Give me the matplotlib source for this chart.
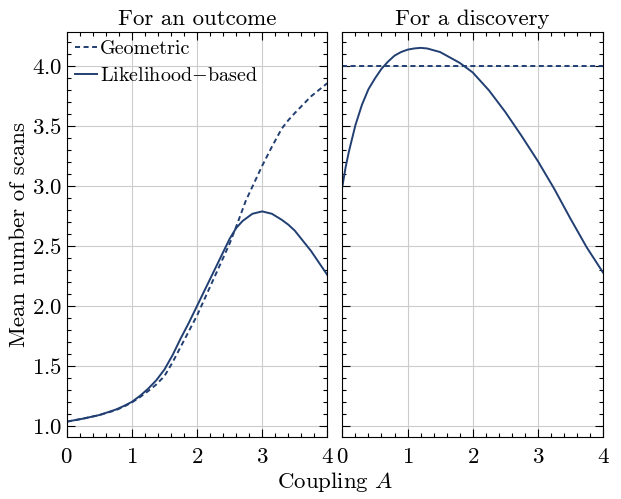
import matplotlib
matplotlib.use("Agg")
import matplotlib.pyplot as plt
from matplotlib.ticker import MultipleLocator

# Computer Modern look using the fonts bundled with matplotlib
plt.rcParams.update({
    "font.family": "serif",
    "font.serif": ["cmr10"],
    "mathtext.fontset": "cm",
    "axes.formatter.use_mathtext": True,
    "font.size": 16.5,
    "axes.unicode_minus": True,
})

LINE_COLOR = "#213f72"
LW = 1.4

# --- outcome panel ---
coupling_outcome = [0.0, 0.25, 0.5, 0.75, 0.875, 1.0, 1.125, 1.25, 1.375, 1.5, 1.625, 1.75,
                    1.875, 2.0, 2.25, 2.5, 2.6, 2.7, 2.85, 3.0, 3.15, 3.3, 3.4, 3.5, 3.75, 4.0]
likelihood_outcome = [1.035, 1.06, 1.09, 1.135, 1.165, 1.20, 1.25, 1.31, 1.38, 1.47, 1.59, 1.73,
                      1.86, 2.00, 2.28, 2.56, 2.65, 2.71, 2.77, 2.79, 2.77, 2.72, 2.68, 2.63,
                      2.46, 2.26]

coupling_geom = [0.0, 0.25, 0.5, 0.75, 0.875, 1.0, 1.125, 1.25, 1.375, 1.5, 1.625, 1.75,
                 1.875, 2.0, 2.25, 2.5, 2.6, 2.75, 3.0, 3.15, 3.3, 3.4, 3.5, 3.75, 4.0]
geometric_outcome = [1.035, 1.06, 1.09, 1.13, 1.16, 1.195, 1.24, 1.29, 1.345, 1.415, 1.53,
                     1.66, 1.79, 1.92, 2.22, 2.52, 2.66, 2.88, 3.17, 3.33, 3.48, 3.55, 3.61,
                     3.75, 3.86]

# --- discovery panel ---
coupling_disc = [0.0, 0.05, 0.1, 0.2, 0.3, 0.4, 0.5, 0.6, 0.7, 0.8, 0.9, 1.0, 1.1, 1.2,
                 1.3, 1.4, 1.5, 1.6, 1.7, 1.8, 1.9, 2.0, 2.25, 2.5, 2.75, 3.0, 3.25,
                 3.5, 3.75, 4.0]
likelihood_disc = [3.00, 3.16, 3.29, 3.51, 3.68, 3.81, 3.90, 3.98, 4.04, 4.09, 4.12, 4.14,
                   4.15, 4.155, 4.15, 4.135, 4.12, 4.09, 4.06, 4.03, 3.99, 3.95, 3.80,
                   3.62, 3.42, 3.21, 2.98, 2.73, 2.49, 2.28]
coupling_disc_geom = [0.0, 4.0]
geometric_disc = [4.0, 4.0]

fig, (ax1, ax2) = plt.subplots(1, 2, sharey=True, figsize=(6.21, 4.99), dpi=100)
fig.subplots_adjust(left=0.1074, right=0.971, bottom=0.125, top=0.9365, wspace=0.058)

ax1.plot(coupling_geom, geometric_outcome, color=LINE_COLOR, lw=LW,
         linestyle=(0, (2.6, 1.8)), label="Geometric")
ax1.plot(coupling_outcome, likelihood_outcome, color=LINE_COLOR, lw=LW,
         label="Likelihood$-$based")

ax2.plot(coupling_disc_geom, geometric_disc, color=LINE_COLOR, lw=LW,
         linestyle=(0, (2.6, 1.8)))
ax2.plot(coupling_disc, likelihood_disc, color=LINE_COLOR, lw=LW)

for ax in (ax1, ax2):
    ax.set_xlim(0, 4)
    ax.set_ylim(0.91, 4.29)
    ax.xaxis.set_major_locator(MultipleLocator(1))
    ax.xaxis.set_minor_locator(MultipleLocator(0.2))
    ax.yaxis.set_major_locator(MultipleLocator(0.5))
    ax.yaxis.set_minor_locator(MultipleLocator(0.1))
    ax.tick_params(which="both", direction="in", top=True, right=True, width=0.8)
    ax.tick_params(which="major", length=6)
    ax.tick_params(which="minor", length=3)
    ax.tick_params(axis="x", which="major", pad=8)
    ax.grid(True, which="major", color="#cccccc", lw=0.8)
    ax.set_axisbelow(True)
    for sp in ax.spines.values():
        sp.set_linewidth(0.8)

ax1.set_title("For an outcome", fontsize=16.5, pad=5)
ax2.set_title("For a discovery", fontsize=16.5, pad=5)
ax1.set_ylabel("Mean number of scans", fontsize=16.5, labelpad=2)
ax2.tick_params(labelleft=False)

x_mid = (ax1.get_position().x0 + ax2.get_position().x1) / 2
fig.text(x_mid, 0.01, "Coupling $A$", ha="center", va="bottom", fontsize=16.5)

ax1.legend(loc="upper left", frameon=False, fontsize=14.5, handlelength=1.1,
           handletextpad=0.15, borderaxespad=0.1, borderpad=0.3, labelspacing=0.45)

fig.savefig("out.png", dpi=100)
